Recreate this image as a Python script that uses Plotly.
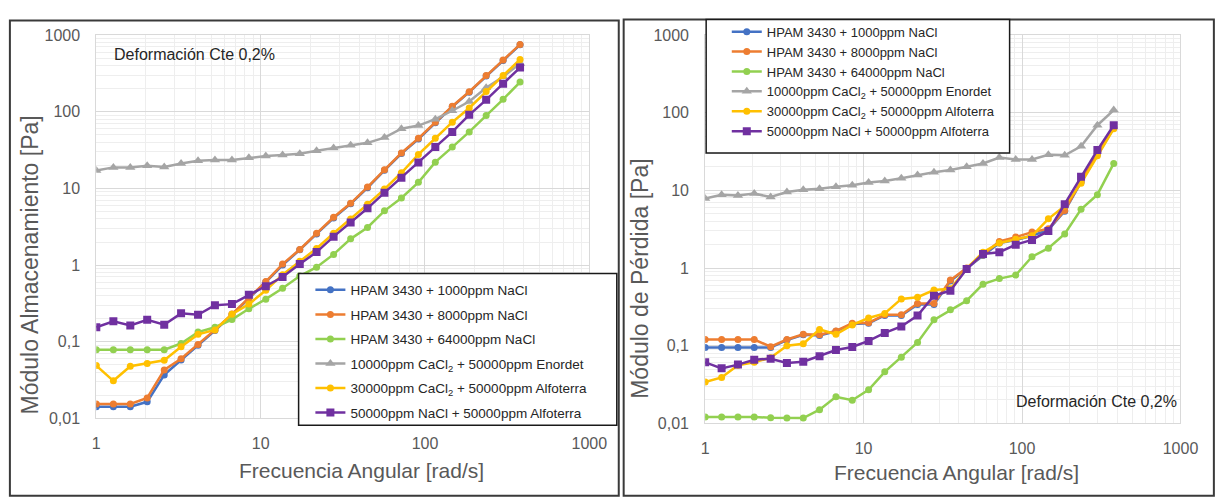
import plotly.graph_objects as go

W, H = 1225, 498

# Angular frequency [rad/s] (shared by all series)
freq = [1.0, 1.27, 1.61, 2.04, 2.59, 3.28, 4.16, 5.27, 6.69, 8.48, 10.75, 13.6, 17.3,
        21.9, 27.8, 35.3, 44.7, 56.7, 71.9, 91.2, 115.6, 146.6, 185.9, 235.7, 298.9, 379.0]

names = [
    "HPAM 3430 + 1000ppm NaCl",
    "HPAM 3430 + 8000ppm NaCl",
    "HPAM 3430 + 64000ppm NaCl",
    "10000ppm CaCl<sub>2</sub> + 50000ppm Enordet",
    "30000ppm CaCl<sub>2</sub> + 50000ppm Alfoterra",
    "50000ppm NaCl + 50000ppm Alfoterra",
]

# Storage modulus G' [Pa]
g1_nacl1000 = [0.0142, 0.0142, 0.0142, 0.0165, 0.037, 0.058, 0.09, 0.14, 0.225, 0.365, 0.6, 1.0, 1.58,
               2.55, 4.1, 6.3, 10.2, 17.2, 28.5, 44, 72, 116, 180, 292, 465, 745]
g1_nacl8000 = [0.0155, 0.0155, 0.0155, 0.0185, 0.043, 0.060, 0.092, 0.143, 0.23, 0.37, 0.61, 1.03, 1.6,
               2.6, 4.2, 6.4, 10.4, 17.5, 29, 45, 73, 118, 182, 296, 471, 755]
g1_nacl64000 = [0.079, 0.079, 0.079, 0.079, 0.079, 0.095, 0.134, 0.155, 0.195, 0.27, 0.36, 0.50, 0.72,
                0.94, 1.38, 2.2, 3.1, 5.1, 7.5, 12, 22, 34.6, 54.6, 89, 145, 244]
g1_enordet = [17.1, 18.8, 18.8, 19.8, 19.0, 21.1, 22.9, 23.5, 23.5, 25.1, 26.4, 27.2, 28.3,
              31, 33.6, 36.5, 39.3, 46, 60, 66, 80, 103, 136, 205, 285, 425]
g1_cacl_alf = [0.049, 0.031, 0.048, 0.052, 0.0575, 0.086, 0.125, 0.143, 0.229, 0.31, 0.47, 0.75, 1.12,
               1.65, 2.6, 4.0, 6.2, 9.8, 16, 27.7, 45, 73, 112, 183, 296, 480]
g1_nacl_alf = [0.155, 0.185, 0.163, 0.194, 0.167, 0.235, 0.225, 0.30, 0.31, 0.41, 0.53, 0.70, 1.03,
               1.48, 2.35, 3.6, 5.5, 8.8, 13.8, 21.8, 34.6, 54.6, 91, 143, 232, 376]

# Loss modulus G'' [Pa]
g2_nacl1000 = [0.095, 0.095, 0.095, 0.095, 0.095, 0.118, 0.138, 0.135, 0.153, 0.19, 0.195, 0.245, 0.245,
               0.34, 0.34, 0.68, 0.98, 1.45, 2.1, 2.3, 2.6, 3.1, 5.4, 12.8, 29, 64]
g2_nacl8000 = [0.12, 0.12, 0.12, 0.12, 0.097, 0.12, 0.14, 0.138, 0.155, 0.195, 0.197, 0.25, 0.25,
               0.35, 0.35, 0.70, 1.0, 1.47, 2.2, 2.5, 2.9, 3.2, 5.5, 13, 30, 65]
g2_nacl64000 = [0.0121, 0.0121, 0.0121, 0.0121, 0.0118, 0.0117, 0.0117, 0.015, 0.022, 0.0198, 0.027, 0.046, 0.071,
                0.11, 0.215, 0.29, 0.38, 0.62, 0.73, 0.81, 1.4, 1.8, 2.75, 5.7, 8.8, 22.2]
g2_enordet = [7.85, 8.8, 8.6, 9.1, 8.2, 9.5, 10.2, 10.5, 11.1, 11.6, 12.6, 13.2, 14.3,
              15.8, 17.1, 18.3, 20.1, 22.2, 26.5, 25, 25, 28.8, 28.3, 37, 69, 108]
g2_cacl_alf = [0.034, 0.039, 0.056, 0.061, 0.07, 0.1, 0.106, 0.162, 0.14, 0.185, 0.227, 0.26, 0.40,
               0.42, 0.52, 0.54, 0.98, 1.6, 2.1, 2.35, 2.6, 4.3, 6.3, 12.3, 28, 62]
g2_nacl_alf = [0.061, 0.051, 0.057, 0.066, 0.068, 0.060, 0.062, 0.073, 0.088, 0.096, 0.115, 0.146, 0.177,
               0.245, 0.44, 0.51, 0.97, 1.52, 1.6, 2.0, 2.3, 3.0, 6.6, 15, 33, 69]

x_tickvals = [1, 10, 100, 1000]
x_ticktext = ["1", "10", "100", "1000"]
y_tickvals = [0.01, 0.1, 1, 10, 100, 1000]
y_ticktext = ["0,01", "0,1", "1", "10", "100", "1000"]

colors = ["#4472C4", "#ED7D31", "#92D050", "#A5A5A5", "#FFC000", "#7030A0"]
symbols = ["circle", "circle", "circle", "triangle-up", "circle", "square"]
msizes = [7, 7, 7, 9, 7, 8]

left_series = [g1_nacl1000, g1_nacl8000, g1_nacl64000, g1_enordet, g1_cacl_alf, g1_nacl_alf]
right_series = [g2_nacl1000, g2_nacl8000, g2_nacl64000, g2_enordet, g2_cacl_alf, g2_nacl_alf]

fig = go.Figure()

for k in range(6):
    fig.add_trace(go.Scatter(
        x=freq, y=left_series[k], name=names[k], mode="lines+markers",
        line=dict(color=colors[k], width=2.5),
        marker=dict(symbol=symbols[k], size=msizes[k], color=colors[k]),
        xaxis="x", yaxis="y", legend="legend", legendgroup="a%d" % k,
    ))
for k in range(6):
    fig.add_trace(go.Scatter(
        x=freq, y=right_series[k], name=names[k], mode="lines+markers",
        line=dict(color=colors[k], width=2.5),
        marker=dict(symbol=symbols[k], size=msizes[k], color=colors[k]),
        xaxis="x2", yaxis="y2", legend="legend2", legendgroup="b%d" % k,
    ))


def px_x(p):
    return p / W


def px_y(p):
    return 1 - p / H


minor_x = [m * 10 ** d for d in range(3) for m in range(2, 10)]
minor_y = [m * 10.0 ** d for d in range(-2, 3) for m in range(2, 10)]

tick_font = dict(family="Liberation Sans, Arial", size=16, color="#595959")

xcommon = dict(type="log", range=[0, 3], tickmode="array", tickvals=x_tickvals, ticktext=x_ticktext,
               showgrid=True, gridcolor="#d9d9d9", gridwidth=1,
               minor=dict(tickvals=minor_x, showgrid=True, gridcolor="#eeeeee", gridwidth=1, ticks=""),
               showline=True, linecolor="#d9d9d9", linewidth=1, mirror=True,
               ticks="outside", ticklen=10, tickcolor="rgba(0,0,0,0)", zeroline=False,
               tickfont=tick_font)
ycommon = dict(type="log", range=[-2, 3], tickmode="array", tickvals=y_tickvals, ticktext=y_ticktext,
               showgrid=True, gridcolor="#d9d9d9", gridwidth=1,
               minor=dict(tickvals=minor_y, showgrid=True, gridcolor="#eeeeee", gridwidth=1, ticks=""),
               showline=True, linecolor="#d9d9d9", linewidth=1, mirror=True,
               ticks="outside", ticklen=12, tickcolor="rgba(0,0,0,0)", zeroline=False,
               tickfont=tick_font)

fig.update_layout(
    width=W, height=H,
    margin=dict(l=0, r=0, t=0, b=0),
    paper_bgcolor="white", plot_bgcolor="white",
    font=dict(family="Liberation Sans, Arial", color="#404040"),
    xaxis=dict(domain=[px_x(94), px_x(596)], anchor="y", **xcommon),
    yaxis=dict(domain=[px_y(425), px_y(28)], anchor="x", **ycommon),
    xaxis2=dict(domain=[px_x(714), px_x(1198)], anchor="y2", **xcommon),
    yaxis2=dict(domain=[px_y(430), px_y(28)], anchor="x2", **ycommon),
    legend=dict(x=px_x(312), y=px_y(276), xanchor="left", yanchor="top",
                bgcolor="rgba(0,0,0,0)", borderwidth=0, tracegroupgap=4,
                font=dict(family="Liberation Sans, Arial", size=13.5, color="#262626")),
    legend2=dict(x=px_x(736), y=px_y(9), xanchor="left", yanchor="top",
                 bgcolor="rgba(0,0,0,0)", borderwidth=0, tracegroupgap=0,
                 font=dict(family="Liberation Sans, Arial", size=13, color="#262626")),
    showlegend=True,
)

shapes = []
# panel borders
shapes.append(dict(type="rect", xref="paper", yref="paper", x0=px_x(6), x1=px_x(626), y0=px_y(505), y1=px_y(13),
                   line=dict(color="#3a3a3a", width=2), fillcolor="rgba(0,0,0,0)", layer="above"))
shapes.append(dict(type="rect", xref="paper", yref="paper", x0=px_x(631), x1=px_x(1232), y0=px_y(505), y1=px_y(12),
                   line=dict(color="#3a3a3a", width=2), fillcolor="rgba(0,0,0,0)", layer="above"))
# legend boxes
shapes.append(dict(type="rect", xref="paper", yref="paper", x0=px_x(300), x1=px_x(624), y0=px_y(432), y1=px_y(275),
                   line=dict(color="#1a1a1a", width=1.5), fillcolor="white", layer="above"))
shapes.append(dict(type="rect", xref="paper", yref="paper", x0=px_x(715), x1=px_x(1024), y0=px_y(150), y1=px_y(12),
                   line=dict(color="#1a1a1a", width=1.5), fillcolor="white", layer="above"))

title_font_x = dict(family="Liberation Sans, Arial", size=21, color="#595959")
title_font_y = dict(family="Liberation Sans, Arial", size=23, color="#595959")
note_font = dict(family="Liberation Sans Narrow, Liberation Sans, Arial", size=16, color="#262626")

annotations = [
    dict(text="Frecuencia Angular [rad/s]", xref="paper", yref="paper", x=px_x(237), y=px_y(479),
         xanchor="left", yanchor="middle", showarrow=False, font=title_font_x),
    dict(text="Frecuencia Angular [rad/s]", xref="paper", yref="paper", x=px_x(843), y=px_y(481),
         xanchor="left", yanchor="middle", showarrow=False, font=title_font_x),
    dict(text="Módulo Almacenamiento [Pa]", xref="paper", yref="paper", x=px_x(26), y=px_y(266),
         xanchor="center", yanchor="middle", textangle=-90, showarrow=False, font=title_font_y),
    dict(text="Módulo de Pérdida [Pa]", xref="paper", yref="paper", x=px_x(648), y=px_y(280),
         xanchor="center", yanchor="middle", textangle=-90, showarrow=False, font=title_font_y),
    dict(text="Deformación Cte 0,2%", xref="paper", yref="paper", x=px_x(110), y=px_y(48),
         xanchor="left", yanchor="middle", showarrow=False, font=note_font),
    dict(text="Deformación Cte 0,2%", xref="paper", yref="paper", x=px_x(1196), y=px_y(407),
         xanchor="right", yanchor="middle", showarrow=False, font=note_font),
]

fig.update_layout(shapes=shapes, annotations=annotations)

fig.write_html("out.html")
